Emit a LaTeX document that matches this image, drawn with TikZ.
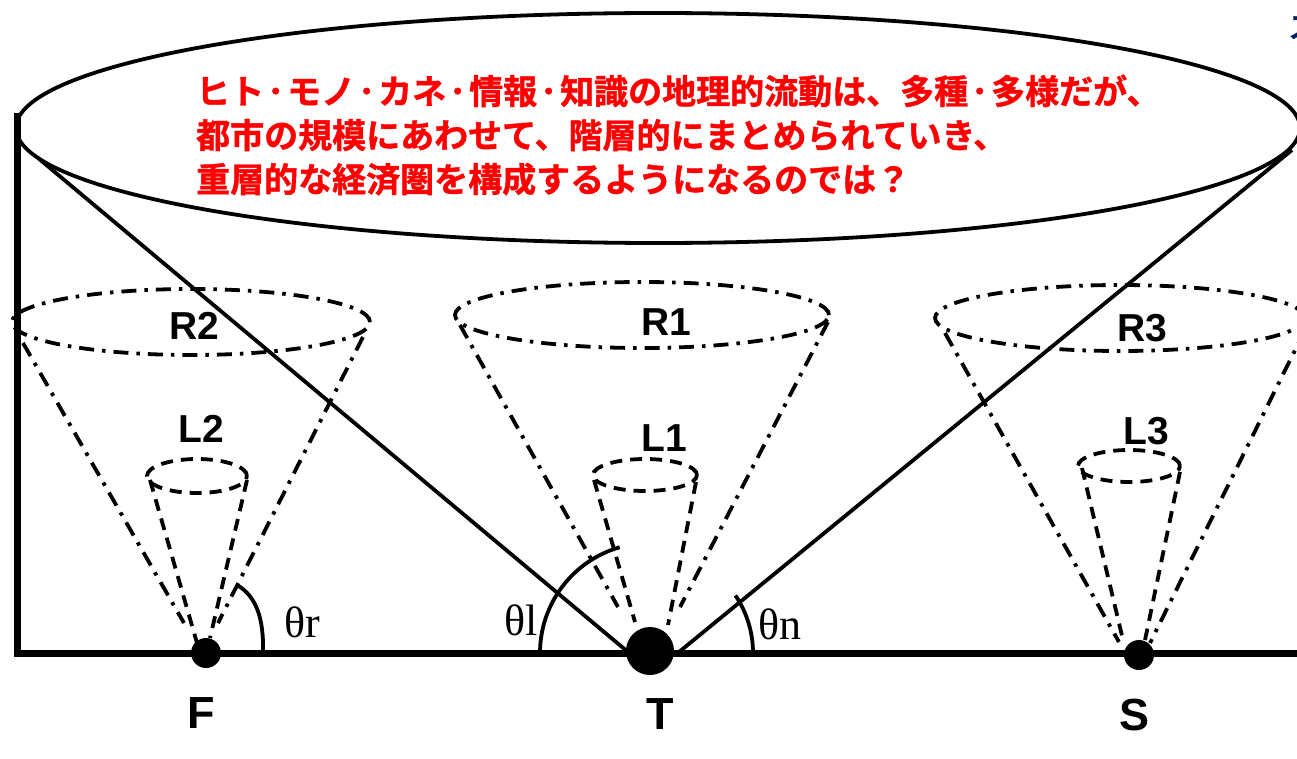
\documentclass[tikz,border=0pt]{standalone}
\usepackage{fontspec}
\setmainfont{Liberation Sans}
\newfontfamily\seriffont{Liberation Serif}
\newfontfamily\cjk{Noto Sans CJK JP Bold}[FakeBold=1.2]
\newfontfamily\cjkplain{Noto Sans CJK JP Bold}
\definecolor{jred}{RGB}{255,0,0}
\definecolor{navy}{RGB}{0,32,96}
\newcommand{\nakaguro}{\kern3pt･\kern3pt}
\begin{document}
\begin{tikzpicture}[x=1pt,y=1pt,
  solidline/.style={line width=3.8pt},
  thickline/.style={line width=7pt},
  dashdot/.style={line width=3.8pt, dash pattern=on 15pt off 8pt on 3.5pt off 8pt},
  dashline/.style={line width=3.8pt, dash pattern=on 12pt off 8pt},
  dotnode/.style={circle, fill=black, inner sep=0pt},
  lab/.style={font=\bfseries\fontsize{39}{39}\selectfont, inner sep=0pt},
  ptlab/.style={font=\bfseries\fontsize{45}{45}\selectfont, inner sep=0pt},
  anglab/.style={font=\seriffont\fontsize{44}{44}\selectfont, inner sep=0pt},
  jtext/.style={font=\cjk\fontsize{34}{34}\selectfont, text=jred, inner sep=0pt, anchor=base west}]
\useasboundingbox (0,0) rectangle (1297,-759);
\clip (0,0) rectangle (1297,-759);
\fill[white] (0,0) rectangle (1297,-759);

% partial blue text at top right
\node[font=\cjkplain\fontsize{30}{30}\selectfont, text=navy, anchor=west, inner sep=0pt] (cut) at (1288,-28) {ス};

% big ellipse
\draw[solidline] (658,-128) ellipse [x radius=642, y radius=115];
\node[jtext] (j1) at (196,-104) {ヒト\nakaguro モノ\nakaguro カネ\nakaguro 情報\nakaguro 知識の地理的流動は、多種\nakaguro 多様だが、};
\node[jtext] (j2) at (196,-148) {都市の規模にあわせて、階層的にまとめられていき、};
\node[jtext] (j3) at (196,-192) {重層的な経済圏を構成するようになるのでは？};

% axes
\coordinate (vtop) at (17,-113);
\coordinate (origin) at (17,-653);
\coordinate (bend) at (1300,-653);
\draw[thickline] (vtop) -- (origin);
\draw[thickline] (14,-653) -- (bend);

% lines from T to big ellipse
\coordinate (e1) at (38,-158);
\coordinate (e2) at (1292,-150);
\coordinate (tL) at (628,-652);
\coordinate (tR) at (679,-652);
\draw[solidline] (e1) -- (tL);
\draw[solidline] (tR) -- (e2);

% ---- cone at F ----
\draw[dashdot] (191,-322) ellipse [x radius=179, y radius=33];
\coordinate (f1) at (23,-343); \coordinate (f2) at (184,-623);
\coordinate (f3) at (363,-337); \coordinate (f4) at (218,-623);
\draw[dashdot] (f1) -- (f2);
\draw[dashdot] (f3) -- (f4);
\draw[dashline] (197,-476) ellipse [x radius=50, y radius=17];
\coordinate (f5) at (150,-480); \coordinate (f6) at (197,-643);
\coordinate (f7) at (247,-480); \coordinate (f8) at (210,-638);
\draw[dashline] (f5) -- (f6);
\draw[dashline] (f7) -- (f8);

% ---- cone at T ----
\draw[dashdot] (642,-315) ellipse [x radius=187, y radius=33];
\coordinate (t1) at (460,-325); \coordinate (t2) at (618,-607);
\coordinate (t3) at (828,-322); \coordinate (t4) at (680,-607);
\draw[dashdot] (t1) -- (t2);
\draw[dashdot] (t3) -- (t4);
\draw[dashline] (645,-475) ellipse [x radius=52, y radius=16];
\coordinate (t5) at (594,-480); \coordinate (t6) at (635,-622);
\coordinate (t7) at (696,-482); \coordinate (t8) at (668,-625);
\draw[dashline] (t5) -- (t6);
\draw[dashline] (t7) -- (t8);

% ---- cone at S ----
\draw[dashdot] (1120,-318) ellipse [x radius=185, y radius=33];
\coordinate (s1) at (945,-333); \coordinate (s2) at (1119,-642);
\coordinate (s3) at (1305,-330); \coordinate (s4) at (1150,-643);
\draw[dashdot] (s1) -- (s2);
\draw[dashdot] (s3) -- (s4);
\draw[dashline] (1129,-466) ellipse [x radius=51, y radius=16];
\coordinate (s5) at (1082,-468); \coordinate (s6) at (1123,-640);
\coordinate (s7) at (1180,-472); \coordinate (s8) at (1145,-640);
\draw[dashline] (s5) -- (s6);
\draw[dashline] (s7) -- (s8);

% angle arcs
\draw[solidline] (263,-653) .. controls (264,-618) and (256,-596) .. (237,-585);
\draw[solidline] (540,-653) arc[start angle=180, end angle=106, radius=110];
\draw[solidline] (753,-653) arc[start angle=0, end angle=34, radius=103];

% points
\node[dotnode, minimum size=30pt] (F) at (206,-653) {};
\node[dotnode, minimum size=48pt] (T) at (650,-651) {};
\node[dotnode, minimum size=30pt] (S) at (1139,-655) {};

% labels
\node[ptlab] (Flab) at (201,-713) {F};
\node[ptlab] (Tlab) at (660,-714) {T};
\node[ptlab] (Slab) at (1134,-715) {S};
\node[lab] (R2) at (194,-326) {R2};
\node[lab] (L2) at (201,-429) {L2};
\node[lab] (R1) at (666,-322) {R1};
\node[lab] (L1) at (664,-438) {L1};
\node[lab] (R3) at (1142,-328) {R3};
\node[lab] (L3) at (1146,-431) {L3};
\node[anglab] (thr) at (302,-622) {θr};
\node[anglab] (thl) at (521,-620) {θl};
\node[anglab] (thn) at (780,-624) {θn};
\end{tikzpicture}
\end{document}
